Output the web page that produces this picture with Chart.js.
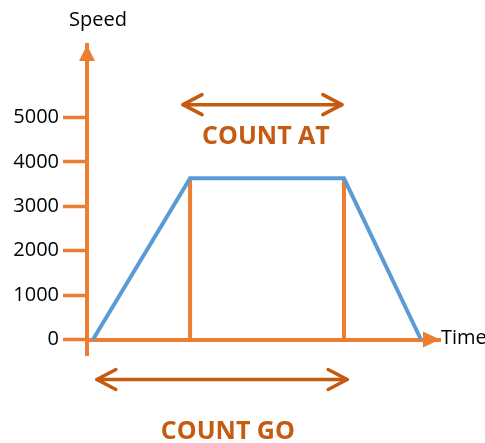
<!DOCTYPE html>
<html><head><meta charset="utf-8">
<script src="https://cdn.jsdelivr.net/npm/chart.js@4.4.1/dist/chart.umd.min.js"></script>
<style>html,body{margin:0;padding:0;background:#fff}#wrap{width:485px;height:443px;position:relative}</style>
</head><body><div id="wrap"><canvas id="c"></canvas></div>
<script>
// Speed profile (time units, speed)
const profileTime  = [0.17, 2.92, 7.28, 9.46];
const profileSpeed = [0, 3630, 3630, 0];
// vertical markers at start/end of constant-speed phase
const markerTime = [2.92, 7.28];
const markerSpeed = [0, 3630];
// y tick labels
const yTickValues = [0, 1000, 2000, 3000, 4000, 5000];
// annotation arrows [fromTime, toTime, speedLevel] and labels
const arrowAtSpan = [2.72, 7.22, 5290];
const arrowGoSpan = [0.28, 7.37, -900];
const labelNames = ["COUNT AT", "COUNT GO"];
const labelTime  = [5.07, 3.99];
const labelSpeed = [4570, -2070];
const axisTitles = ["Speed", "Time"];

const AX = '#ED7D31', BLUE = '#5B9BD5', DARK = '#C55A11';
const FONT = '"Open Sans", sans-serif';

const annot = {
  id: 'annot',
  afterDraw(chart) {
    const ctx = chart.ctx, xs = chart.scales.x, ys = chart.scales.y, a = chart.chartArea;
    ctx.save();
    // axis arrowheads
    ctx.fillStyle = AX;
    const x0 = xs.getPixelForValue(0), y0 = ys.getPixelForValue(0);
    ctx.beginPath(); ctx.moveTo(x0, a.top); ctx.lineTo(x0 - 8, a.top + 16); ctx.lineTo(x0 + 8, a.top + 16); ctx.closePath(); ctx.fill();
    ctx.beginPath(); ctx.moveTo(a.right, y0); ctx.lineTo(a.right - 17, y0 - 8); ctx.lineTo(a.right - 17, y0 + 8); ctx.closePath(); ctx.fill();
    // axis titles
    ctx.fillStyle = '#000'; ctx.font = '20px ' + FONT; ctx.textBaseline = 'middle';
    ctx.textAlign = 'center'; ctx.fillText(axisTitles[0], x0 + 11, a.top - 25);
    ctx.textAlign = 'left'; ctx.fillText(axisTitles[1], a.right + 1, y0 - 1);
    // double arrows
    ctx.strokeStyle = DARK; ctx.lineWidth = 3.5; ctx.lineCap = 'round'; ctx.lineJoin = 'round';
    [arrowAtSpan, arrowGoSpan].forEach(s => {
      const xa = xs.getPixelForValue(s[0]), xb = xs.getPixelForValue(s[1]), y = ys.getPixelForValue(s[2]);
      ctx.beginPath(); ctx.moveTo(xa, y); ctx.lineTo(xb, y); ctx.stroke();
      ctx.beginPath(); ctx.moveTo(xa + 19, y - 10); ctx.lineTo(xa, y); ctx.lineTo(xa + 19, y + 10); ctx.stroke();
      ctx.beginPath(); ctx.moveTo(xb - 19, y - 10); ctx.lineTo(xb, y); ctx.lineTo(xb - 19, y + 10); ctx.stroke();
    });
    ctx.fillStyle = DARK; ctx.font = 'bold 25px ' + FONT; ctx.textAlign = 'center';
    labelNames.forEach((t, i) => ctx.fillText(t, xs.getPixelForValue(labelTime[i]), ys.getPixelForValue(labelSpeed[i])));
    ctx.restore();
  }
};

new Chart(document.getElementById('c'), {
  type: 'line',
  data: {
    datasets: [
      { data: profileTime.map((t, i) => ({x: t, y: profileSpeed[i]})), borderColor: BLUE, borderWidth: 4, pointRadius: 0, order: 0 },
      { data: markerSpeed.map(v => ({x: markerTime[0], y: v})), borderColor: AX, borderWidth: 4, pointRadius: 0, order: 1 },
      { data: markerSpeed.map(v => ({x: markerTime[1], y: v})), borderColor: AX, borderWidth: 4, pointRadius: 0, order: 1 }
    ]
  },
  options: {
    responsive: true, maintainAspectRatio: false, animation: false,
    layout: { padding: { left: 0, top: 45, right: 45, bottom: 88 } },
    plugins: { legend: { display: false }, tooltip: { enabled: false } },
    scales: {
      x: { type: 'linear', min: 0, max: 10, position: { y: 0 },
           ticks: { display: false }, grid: { display: false, drawTicks: false },
           border: { display: true, color: AX, width: 4 } },
      y: { type: 'linear', min: -349, max: 6633,
           afterFit: s => { s.width = 87; },
           afterBuildTicks: s => { s.ticks = yTickValues.map(v => ({ value: v })); },
           ticks: { color: '#000', font: { size: 20, family: FONT }, padding: 4, callback: v => String(v) },
           grid: { drawOnChartArea: false, drawTicks: true, tickLength: 24, tickColor: AX, tickWidth: 3.5 },
           border: { display: true, color: AX, width: 4 } }
    }
  },
  plugins: [annot]
});
</script></body></html>
